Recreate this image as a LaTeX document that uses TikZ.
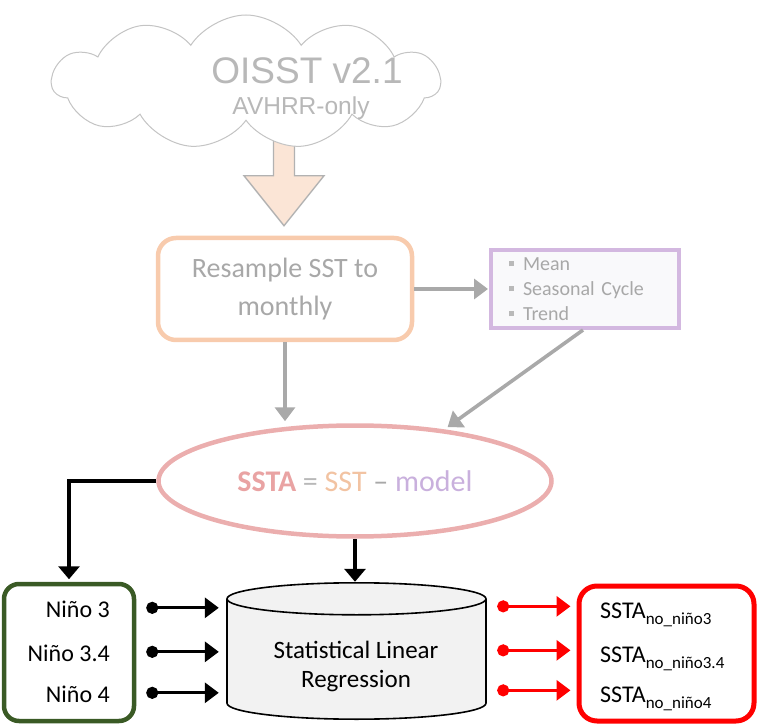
\documentclass[tikz,border=0pt]{standalone}
\usepackage{fontspec}
\setmainfont{Carlito}
\newfontfamily\arialf{Liberation Sans}
\usetikzlibrary{shapes.symbols,shapes.geometric,arrows.meta,calc}
\definecolor{cloudline}{HTML}{C4C4C4}
\definecolor{cloudtext}{HTML}{B8B8B8}
\definecolor{peachfill}{HTML}{FBE5D6}
\definecolor{peachline}{HTML}{F8CBAD}
\definecolor{arrowgray}{HTML}{A9A9A9}
\definecolor{boxtext}{HTML}{A8A8A8}
\definecolor{purpline}{HTML}{D3B8E0}
\definecolor{purpfill}{HTML}{F9F9FB}
\definecolor{pinkline}{HTML}{EBAEAE}
\definecolor{pinktext}{HTML}{E9A3A3}
\definecolor{ssttext}{HTML}{F2C3A2}
\definecolor{modeltext}{HTML}{C9B0DD}
\definecolor{greenline}{HTML}{3A5A25}
\definecolor{cylfill}{HTML}{F2F2F2}
\definecolor{redline}{HTML}{FF0000}
\newcommand{\sqbullet}{\hspace{6pt}{\color{boxtext!80}\raisebox{4pt}{\rule{5pt}{5pt}}}\hspace{9.5pt}}
\begin{document}
\begin{tikzpicture}[x=1pt,y=-1pt,
  grayarrow/.style={draw=arrowgray, line width=3.6pt, -{Triangle[length=14pt,width=20pt]}},
  blackarrow/.style={draw=black, line width=3.2pt, -{Triangle[length=13pt,width=21pt]}},
  dotarrow/.style={line width=3.2pt, {Circle[length=12pt]}-{Triangle[length=14pt,width=20pt]}},
  txt/.style={inner sep=0pt, font=\fontsize{24}{28}\selectfont}
]
\useasboundingbox (0,0) rectangle (758,727);

% Resample box
\node[draw=peachline, line width=4.5pt, rounded corners=18pt, minimum width=254pt, minimum height=102pt,
  align=center, text=boxtext, font=\fontsize{28}{38}\selectfont] (res) at (285,289) {Resample SST to\\monthly};

% thick down arrow from cloud
\coordinate (tip) at ($(res.north)+(-1,-10)$);
\draw[fill=peachfill, draw=arrowgray!90, line width=1.4pt]
  ($(tip)+(-10.5,-90)$) -- ($(tip)+(-10.5,-50)$) -- ($(tip)+(-40,-50)$) -- (tip)
  -- ($(tip)+(40,-50)$) -- ($(tip)+(10.5,-50)$) -- ($(tip)+(10.5,-90)$);

% cloud
\node[cloud, cloud puffs=11, cloud puff arc=115, cloud ignores aspect, minimum width=388pt, minimum height=134pt,
  draw=cloudline, fill=white, line width=1pt] (cloud) at (246,82) {};
\node[inner sep=0pt, text=cloudtext, font=\arialf\fontsize{37}{42}\selectfont] (oisst) at (307,71) {OISST v2.1};
\node[inner sep=0pt, text=cloudtext, font=\arialf\fontsize{24.5}{28}\selectfont] (avhrr) at (301,108) {AVHRR-only};

% purple box
\node[draw=purpline, fill=purpfill, line width=4pt, minimum width=188pt, minimum height=78pt,
  text width=165pt, inner xsep=0pt, align=left, text=boxtext, font=\fontsize{20}{25}\selectfont] (pur) at (585,289)
  {\sqbullet Mean\\\sqbullet Seasonal Cycle\\\sqbullet Trend};

% ellipse
\node[ellipse, draw=pinkline, line width=4.5pt, minimum width=393pt, minimum height=111pt, inner sep=0pt,
  font=\fontsize{30}{34}\selectfont] (ell) at (355,481)
  {\textcolor{pinktext}{\textbf{SSTA}} \textcolor{cloudtext}{=} \textcolor{ssttext}{SST} \textcolor{boxtext}{\textendash} \textcolor{modeltext}{model}};

% gray connectors
\draw[grayarrow] (res.east) -- ($(pur.west)+(-1,0)$);
\draw[grayarrow] (res.south) -- ($(res.south |- ell.north)+(0,-2)$);
\draw[grayarrow, shorten >=4pt] ($(pur.south)+(-2,0)$) -- (ell.30);

% green box
\node[draw=greenline, line width=4.5pt, rounded corners=15pt, minimum width=130pt, minimum height=137pt] (grn) at (69,652.5) {};
\node[txt, anchor=base east] (n3) at (110,617) {Niño 3};
\node[txt, anchor=base east] (n34) at (110,661) {Niño 3.4};
\node[txt, anchor=base east] (n4) at (110,702) {Niño 4};

% cylinder
\node[minimum width=259pt, minimum height=136pt, inner sep=0pt] (cyl) at (356.5,651) {};
\fill[cylfill] ($(cyl.north west)+(0,16)$) rectangle ($(cyl.south east)+(0,-16)$);
\fill[cylfill] ($(cyl.north)+(0,16)$) ellipse[x radius=129.5pt, y radius=16pt];
\fill[cylfill] ($(cyl.south)+(0,-16)$) ellipse[x radius=129.5pt, y radius=16pt];
\draw[line width=1.6pt] ($(cyl.north)+(0,16)$) ellipse[x radius=129.5pt, y radius=16pt];
\draw[line width=1.6pt] ($(cyl.north west)+(0,16)$) -- ($(cyl.south west)+(0,-16)$);
\draw[line width=1.6pt] ($(cyl.north east)+(0,16)$) -- ($(cyl.south east)+(0,-16)$);
\begin{scope}
  \clip ($(cyl.south west)+(-3,-16)$) rectangle ($(cyl.south east)+(3,5)$);
  \draw[line width=1.6pt] ($(cyl.south)+(0,-16)$) ellipse[x radius=129.5pt, y radius=16pt];
\end{scope}
\node[align=center, inner sep=0pt, font=\fontsize{25}{29}\selectfont] (cyltext) at (356,666) {Statistical Linear\\Regression};

% black connectors
\draw[blackarrow] (ell.west) -| ($(grn.north)+(0,-2.5)$);
\draw[blackarrow] (ell.south) -- ($(ell.south |- cyl.north)+(0,-1)$);

% red box
\node[draw=redline, line width=5pt, rounded corners=18pt, minimum width=175pt, minimum height=135pt] (red) at (666.5,653.5) {};
\node[txt, anchor=base west] (s3) at (600,618) {SSTA\raisebox{-6pt}{\fontsize{17}{17}\selectfont no\_niño3}};
\node[txt, anchor=base west] (s34) at (600,662) {SSTA\raisebox{-6pt}{\fontsize{17}{17}\selectfont no\_niño3.4}};
\node[txt, anchor=base west] (s4) at (600,702) {SSTA\raisebox{-6pt}{\fontsize{17}{17}\selectfont no\_niño4}};

% input arrows
\foreach \n in {n3,n34,n4}{
  \draw[dotarrow] ($(grn.east |- \n)+(10,-1)$) -- ($(cyl.west |- \n)+(-8,-1)$);
}
% output arrows
\foreach \n in {s3,s34,s4}{
  \draw[dotarrow, draw=redline, fill=redline] ($(cyl.east |- \n)+(11,-8)$) -- ($(red.west |- \n)+(-6,-8)$);
}
\end{tikzpicture}
\end{document}
